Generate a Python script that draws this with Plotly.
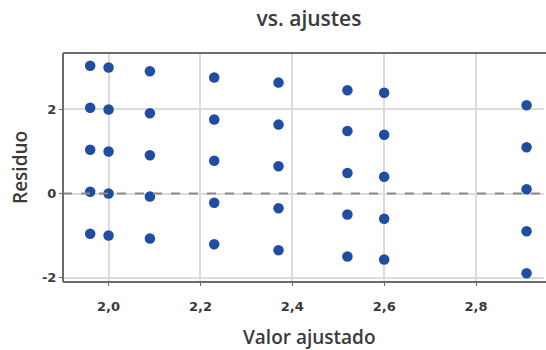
import plotly.graph_objects as go

# Fitted values (one column of points per fitted level)
fit_levels = [1.96, 2.00, 2.09, 2.23, 2.37, 2.52, 2.60, 2.91]

# Residuals at each fitted level, top to bottom
resid_by_level = [
    [3.04, 2.04, 1.04, 0.04, -0.96],
    [3.00, 2.00, 1.00, 0.00, -1.00],
    [2.91, 1.91, 0.91, -0.07, -1.07],
    [2.76, 1.76, 0.78, -0.22, -1.21],
    [2.64, 1.64, 0.65, -0.35, -1.35],
    [2.46, 1.49, 0.49, -0.50, -1.50],
    [2.40, 1.40, 0.40, -0.60, -1.57],
    [2.10, 1.10, 0.10, -0.90, -1.90],
]

fitted = [f for f, col in zip(fit_levels, resid_by_level) for _ in col]
residuals = [r for col in resid_by_level for r in col]

x_ticks = [2.0, 2.2, 2.4, 2.6, 2.8]
y_ticks = [-2, 0, 2]
y_tick_text = ["-2", "0", "2"]

FONT = "Open Sans"
TICK_FONT = "DejaVu Sans"
TXT = "#3a3a3a"
FRAME = "#6b6b6b"
GRID = "#dcdcdc"

W, H = 546, 350
L, T, B = 63, 53, 68
PW, PH = W - L, H - T - B

fig = go.Figure()

fig.add_trace(go.Scatter(
    x=fitted, y=residuals, mode="markers",
    marker=dict(size=10.5, color="#1f4da2", line=dict(width=0)),
    showlegend=False, hoverinfo="x+y", cliponaxis=False,
))

# Reference line at zero residual
fig.add_hline(y=0, line=dict(color="#8a8a8a", width=2, dash="dash"))

# The frame is open on the right: blank the right edge of the plot area
fig.add_shape(type="line", xref="paper", yref="paper",
              x0=1, y0=0, x1=1, y1=1,
              line=dict(color="white", width=4), layer="above")

# Frame: left, bottom and top edges
for x0, y0, x1, y1 in [(0, 0, 0, 1), (0, 0, 1, 0), (0, 1, 1, 1)]:
    fig.add_shape(type="line", xref="paper", yref="paper",
                  x0=x0, y0=y0, x1=x1, y1=y1,
                  line=dict(color=FRAME, width=2), layer="above")

fig.update_layout(
    width=W, height=H,
    margin=dict(l=L, r=0, t=T, b=B),
    paper_bgcolor="white", plot_bgcolor="white",
    separators=",.",
    font=dict(family=FONT, color=TXT, size=12),
    title=dict(
        text="vs. ajustes", x=309 / W, xref="container", xanchor="center",
        y=1 - 19 / H, yref="container", yanchor="middle",
        font=dict(family=FONT, size=21, color=TXT, weight=600),
    ),
    annotations=[
        dict(text="Valor ajustado", xref="paper", yref="paper",
             x=(309 - L) / PW, y=-(337 - (H - B)) / PH,
             xanchor="center", yanchor="middle", showarrow=False,
             font=dict(family=FONT, size=19, color=TXT, weight=600)),
        dict(text="Residuo", xref="paper", yref="paper",
             x=-(L - 20) / PW, y=((H - B) - 168) / PH, textangle=-90,
             xanchor="center", yanchor="middle", showarrow=False,
             font=dict(family=FONT, size=19, color=TXT, weight=600)),
    ],
)

fig.update_xaxes(
    range=[1.9008, 2.9523], tickvals=x_ticks, tickformat=".1f",
    showgrid=True, gridcolor=GRID, gridwidth=1.5,
    showline=False,
    ticks="outside", ticklen=3, tickcolor=FRAME, tickwidth=1,
    ticklabelstandoff=9,
    tickfont=dict(family=TICK_FONT, size=13, color=TXT, weight="bold"),
    zeroline=False,
)
fig.update_yaxes(
    range=[-2.107, 3.345], tickvals=y_ticks, ticktext=y_tick_text,
    showgrid=True, gridcolor=GRID, gridwidth=1.5,
    showline=False,
    ticks="outside", ticklen=3, tickcolor=FRAME, tickwidth=1,
    tickfont=dict(family=TICK_FONT, size=13, color=TXT, weight="bold"),
    zeroline=False,
)

fig.write_html("out.html")
